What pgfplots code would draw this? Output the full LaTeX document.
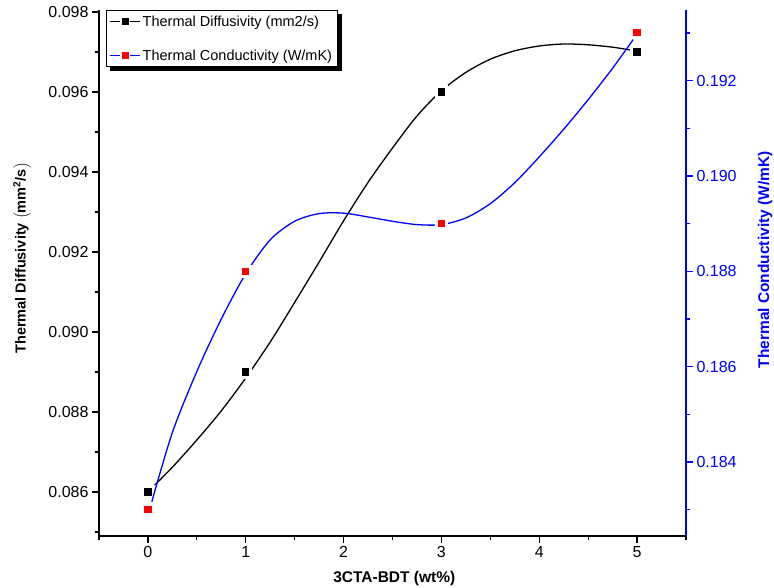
\documentclass[border=0pt]{standalone}
\usepackage{pgfplots}
\pgfplotsset{compat=1.18}
\usepackage{fontspec}
\setmainfont{Liberation Sans}
\definecolor{pblue}{RGB}{0,0,255}
\definecolor{pred}{RGB}{255,0,0}
\pgfplotsset{
  common/.style={
    width=587pt, height=526pt, scale only axis,
    xmin=-0.5, xmax=5.5,
    tick align=outside,
    major tick length=7pt, minor tick length=4pt,
    /pgf/number format/assume math mode=true,
    tick label style={font=\fontsize{16}{18}\selectfont},
    scaled y ticks=false,
    clip=false,
  }
}
\begin{document}
\begin{tikzpicture}
\useasboundingbox (-99pt,-51pt) rectangle (675pt,536pt);
% ---------- left axis: thermal diffusivity ----------
\begin{axis}[common,
  every tick/.style={line width=1.3pt, black},
  every minor tick/.style={line width=1.3pt, black},
  axis x line*=bottom, axis y line*=left,
  axis line style={line width=1.4pt, black},
  ymin=0.0849, ymax=0.09805,
  xtick={0,1,2,3,4,5},
  minor xtick={-0.5,0.5,1.5,2.5,3.5,4.5,5.5},
  ytick={0.086,0.088,0.090,0.092,0.094,0.096,0.098},
  minor ytick={0.085,0.087,0.089,0.091,0.093,0.095,0.097},
  yticklabel style={/pgf/number format/.cd, fixed, fixed zerofill, precision=3},
  xlabel={\textbf{3CTA-BDT (wt\%)}},
  every axis x label/.style={at={(axis description cs:0.503,-0.080)}, anchor=center, font=\fontsize{15.5}{17}\selectfont},
  ylabel={\textbf{Thermal Diffusivity $\left(\textbf{mm}^{\mathbf{2}}\textbf{/s}\right)$}},
  every axis y label/.style={at={(axis description cs:-0.131,0.528)}, rotate=90, anchor=center, font=\fontsize{14.5}{16}\selectfont},
]
\addplot[black, line width=1.3pt, smooth, mark=none] coordinates {
 (0.06,0.08615) (0.25,0.08662) (0.50,0.08730) (0.75,0.08803)
 (1.00,0.08885) (1.25,0.08975) (1.50,0.09074) (1.75,0.09175)
 (2.00,0.09278) (2.25,0.09374) (2.50,0.09460) (2.75,0.09540)
 (3.00,0.09603) (3.25,0.09649) (3.50,0.09682) (3.75,0.09703)
 (4.00,0.09715) (4.25,0.09720) (4.50,0.09718) (4.75,0.09712)
 (4.93,0.09705)
};
\addplot[only marks, mark=square*, mark size=5.1pt, mark options={fill=black, draw=white, line width=3pt}] coordinates {
 (0,0.086) (1,0.089) (3,0.096) (5,0.097)
};
\end{axis}
% ---------- right axis: thermal conductivity ----------
\begin{axis}[common,
  every tick/.style={line width=1.3pt, pblue},
  every minor tick/.style={line width=1.3pt, pblue},
  axis x line=none, axis y line*=right,
  axis line style={line width=1.4pt, pblue},
  ymin=0.18245, ymax=0.19348,
  ytick={0.184,0.186,0.188,0.190,0.192},
  minor ytick={0.183,0.185,0.187,0.189,0.191,0.193},
  yticklabel style={pblue, /pgf/number format/.cd, fixed, fixed zerofill, precision=3},
  ylabel={\textbf{Thermal Conductivity (W/mK)}},
  every axis y label/.style={at={(axis description cs:1.1346,0.525)}, rotate=90, anchor=center, font=\fontsize{15.5}{17}\selectfont, text=pblue},
  legend style={name=lgd, at={(axis description cs:0.012,1)}, anchor=north west,
    draw=black, line width=1pt, fill=white,
    font=\fontsize{14.5}{16}\selectfont, row sep=18pt, inner sep=3pt},
  legend cell align=left,
]
\addlegendimage{legend image code/.code={
  \draw[black,line width=1.2pt] (0pt,0pt) -- (30pt,0pt);
  \filldraw[fill=black, draw=white, line width=1.2pt] (10.8pt,-4.2pt) rectangle (19.2pt,4.2pt);}}
\addlegendentry{Thermal Diffusivity (mm2/s)}
\addlegendimage{legend image code/.code={
  \draw[pblue,line width=1.2pt] (0pt,0pt) -- (30pt,0pt);
  \filldraw[fill=pred, draw=white, line width=1.2pt] (10.8pt,-4.2pt) rectangle (19.2pt,4.2pt);}}
\addlegendentry{Thermal Conductivity (W/mK)}
\addplot[pblue, line width=1.3pt, smooth, mark=none, forget plot] coordinates {
 (0.04,0.18317) (0.25,0.18462) (0.50,0.18590) (0.75,0.18700)
 (1.00,0.18795) (1.25,0.18866) (1.50,0.18905) (1.75,0.18921)
 (2.00,0.18922) (2.25,0.18914) (2.50,0.18905) (2.75,0.18898)
 (3.00,0.18898) (3.25,0.18912) (3.50,0.18942) (3.75,0.18986)
 (4.00,0.19040) (4.25,0.19098) (4.50,0.19160) (4.75,0.19226)
 (4.96,0.19286)
};
\addplot[only marks, mark=square*, mark size=5.1pt, mark options={fill=pred, draw=white, line width=3pt}, forget plot] coordinates {
 (0,0.183) (1,0.188) (3,0.189) (5,0.193)
};
\end{axis}
% legend shadow (right and bottom strips)
\fill[black] ([xshift=4pt]lgd.south west) rectangle ([xshift=4pt,yshift=-4pt]lgd.south east);
\fill[black] ([yshift=-4pt]lgd.north east) rectangle ([xshift=4pt]lgd.south east);
\end{tikzpicture}
\end{document}
